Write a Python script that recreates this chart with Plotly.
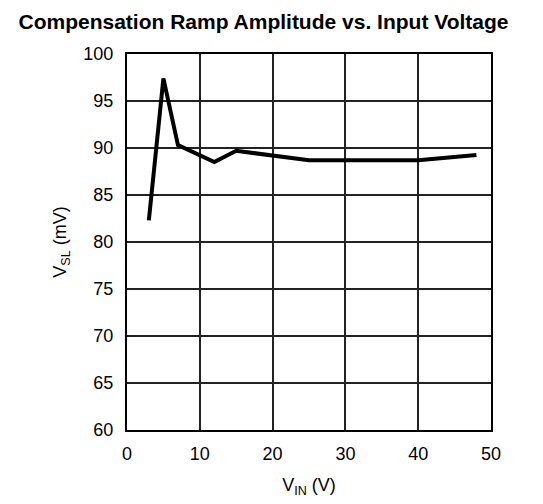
import plotly.graph_objects as go

vin = [3, 5, 7, 12, 15, 25, 40, 48]
vsl = [82.3, 97.4, 90.3, 88.5, 89.7, 88.7, 88.7, 89.25]

x_ticks = [0, 10, 20, 30, 40, 50]
y_ticks = [60, 65, 70, 75, 80, 85, 90, 95, 100]

fig = go.Figure()
fig.add_trace(go.Scatter(x=vin, y=vsl, mode="lines",
                         line=dict(color="black", width=4), showlegend=False))

# page body has an 8px default margin, so the figure is 8px smaller and shifted
W, H = 535, 496
font = "Liberation Sans, Arial, sans-serif"
fig.update_layout(
    width=W, height=H,
    margin=dict(l=119, r=52, t=46, b=72),
    paper_bgcolor="white", plot_bgcolor="white",
    font=dict(family=font, size=18, color="black"),
    title=dict(text="<b>Compensation Ramp Amplitude vs. Input Voltage</b>",
               x=255.5 / W, xanchor="center", y=1 - 14 / H, yanchor="middle",
               font=dict(family=font, size=21, color="black")),
)
fig.update_xaxes(range=[0, 50], tickvals=x_ticks, ticks="", showgrid=True,
                 gridcolor="#222", gridwidth=1.5, showline=True, linecolor="black",
                 linewidth=2, mirror=True, zeroline=False, ticklabelstandoff=6,
                 title=dict(text="V<sub>IN</sub> (V)", standoff=16, font=dict(size=18)))
fig.update_yaxes(range=[60, 100], tickvals=y_ticks, ticks="", showgrid=True,
                 gridcolor="#222", gridwidth=1.5, showline=True, linecolor="black",
                 linewidth=2, mirror=True, zeroline=False, ticklabelstandoff=8,
                 title=dict(text="V<sub>SL</sub> (mV)", standoff=12, font=dict(size=18)))

fig.write_html("out.html")
